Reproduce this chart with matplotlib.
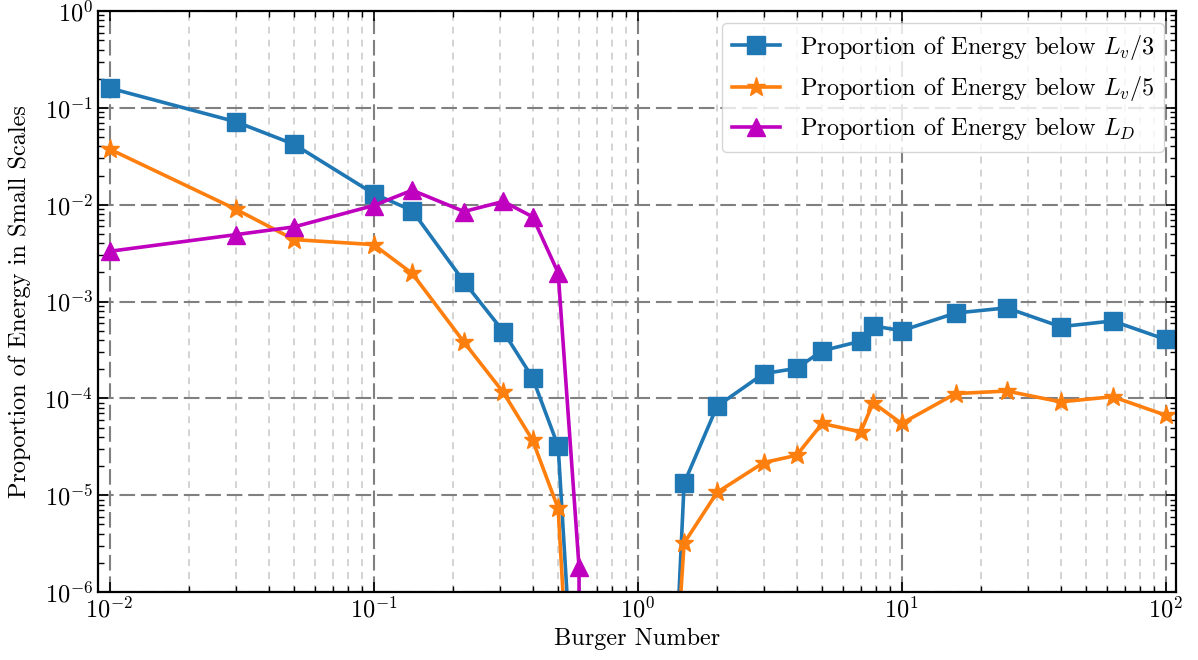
import numpy as np
import matplotlib
matplotlib.use("Agg")
import matplotlib.pyplot as plt

plt.rcParams['font.family'] = ['cmr10']
plt.rcParams['mathtext.fontset'] = 'cm'
plt.rcParams['axes.formatter.use_mathtext'] = True
plt.rcParams['axes.unicode_minus'] = False

# Burger numbers
bu_lv = [0.01, 0.03, 0.05, 0.1, 0.14, 0.22, 0.31, 0.4, 0.5, 0.6,
         1.4, 1.5, 2, 3, 4, 5, 7, 7.8, 10, 16, 25, 40, 63, 100]
bu_ld = [0.01, 0.03, 0.05, 0.1, 0.14, 0.22, 0.31, 0.4, 0.5, 0.6, 0.7]

# Proportion of energy below L_v/3
e_lv3 = [0.16, 0.072, 0.042, 0.013, 0.0087, 0.0016, 4.9e-4, 1.63e-4, 3.2e-5, 8e-9,
         2.3e-7, 1.33e-5, 8.3e-5, 1.8e-4, 2.04e-4, 3.1e-4, 3.9e-4, 5.6e-4, 5.0e-4,
         7.6e-4, 8.6e-4, 5.5e-4, 6.3e-4, 4.06e-4]
# Proportion of energy below L_v/5
e_lv5 = [0.0375, 0.0090, 0.00436, 0.00387, 0.00195, 3.8e-4, 1.15e-4, 3.7e-5, 7.3e-6, 1.2e-9,
         1.8e-7, 3.2e-6, 1.07e-5, 2.17e-5, 2.58e-5, 5.5e-5, 4.5e-5, 9.0e-5, 5.5e-5,
         1.12e-4, 1.19e-4, 9.2e-5, 1.04e-4, 6.7e-5]
# Proportion of energy below L_D
e_ld = [3.3e-3, 4.9e-3, 5.9e-3, 9.8e-3, 0.0141, 8.5e-3, 0.0108, 7.5e-3, 1.98e-3, 1.8e-6, 0.0]

labels = [r'Proportion of Energy below $L_v/3$',
          r'Proportion of Energy below $L_v/5$',
          r'Proportion of Energy below $L_D$']

fig = plt.figure(figsize=(11.98, 6.6), dpi=100)
ax = fig.add_axes([0.0818, 0.1030, 0.900, 0.8803])

ax.set_xscale('log')
ax.set_yscale('log')

ax.plot(bu_lv, e_lv3, '-s', color='#1f77b4', lw=2.6, ms=12.5, label=labels[0])
ax.plot(bu_lv, e_lv5, '-*', color='#ff7f0e', lw=2.6, ms=14, label=labels[1])
ax.plot(bu_ld, e_ld, '-^', color='#bf00bf', lw=2.6, ms=13, label=labels[2])

ax.set_xlim(10**-2.044, 10**2.04)
ax.set_ylim(1e-6, 1e0)

ax.grid(which='major', axis='both', color='0.5', lw=1.5, ls=(0, (7.5, 2.8)))
ax.grid(which='minor', axis='x', color='0.78', lw=1.1, ls=(0, (4.5, 4)))
ax.set_axisbelow(True)

ax.tick_params(which='both', direction='in', top=True, right=True, labelsize=17.5)
ax.tick_params(which='major', length=7, width=1.2)
ax.tick_params(which='minor', length=4, width=1.0)
for s in ax.spines.values():
    s.set_linewidth(1.6)

ax.set_xlabel('Burger Number', fontsize=17.5)
ax.set_ylabel('Proportion of Energy in Small Scales', fontsize=17.5, labelpad=10)

leg = ax.legend(loc='upper right', fontsize=17.5, framealpha=0.8, edgecolor='0.8')

fig.savefig('out.png', dpi=100)
